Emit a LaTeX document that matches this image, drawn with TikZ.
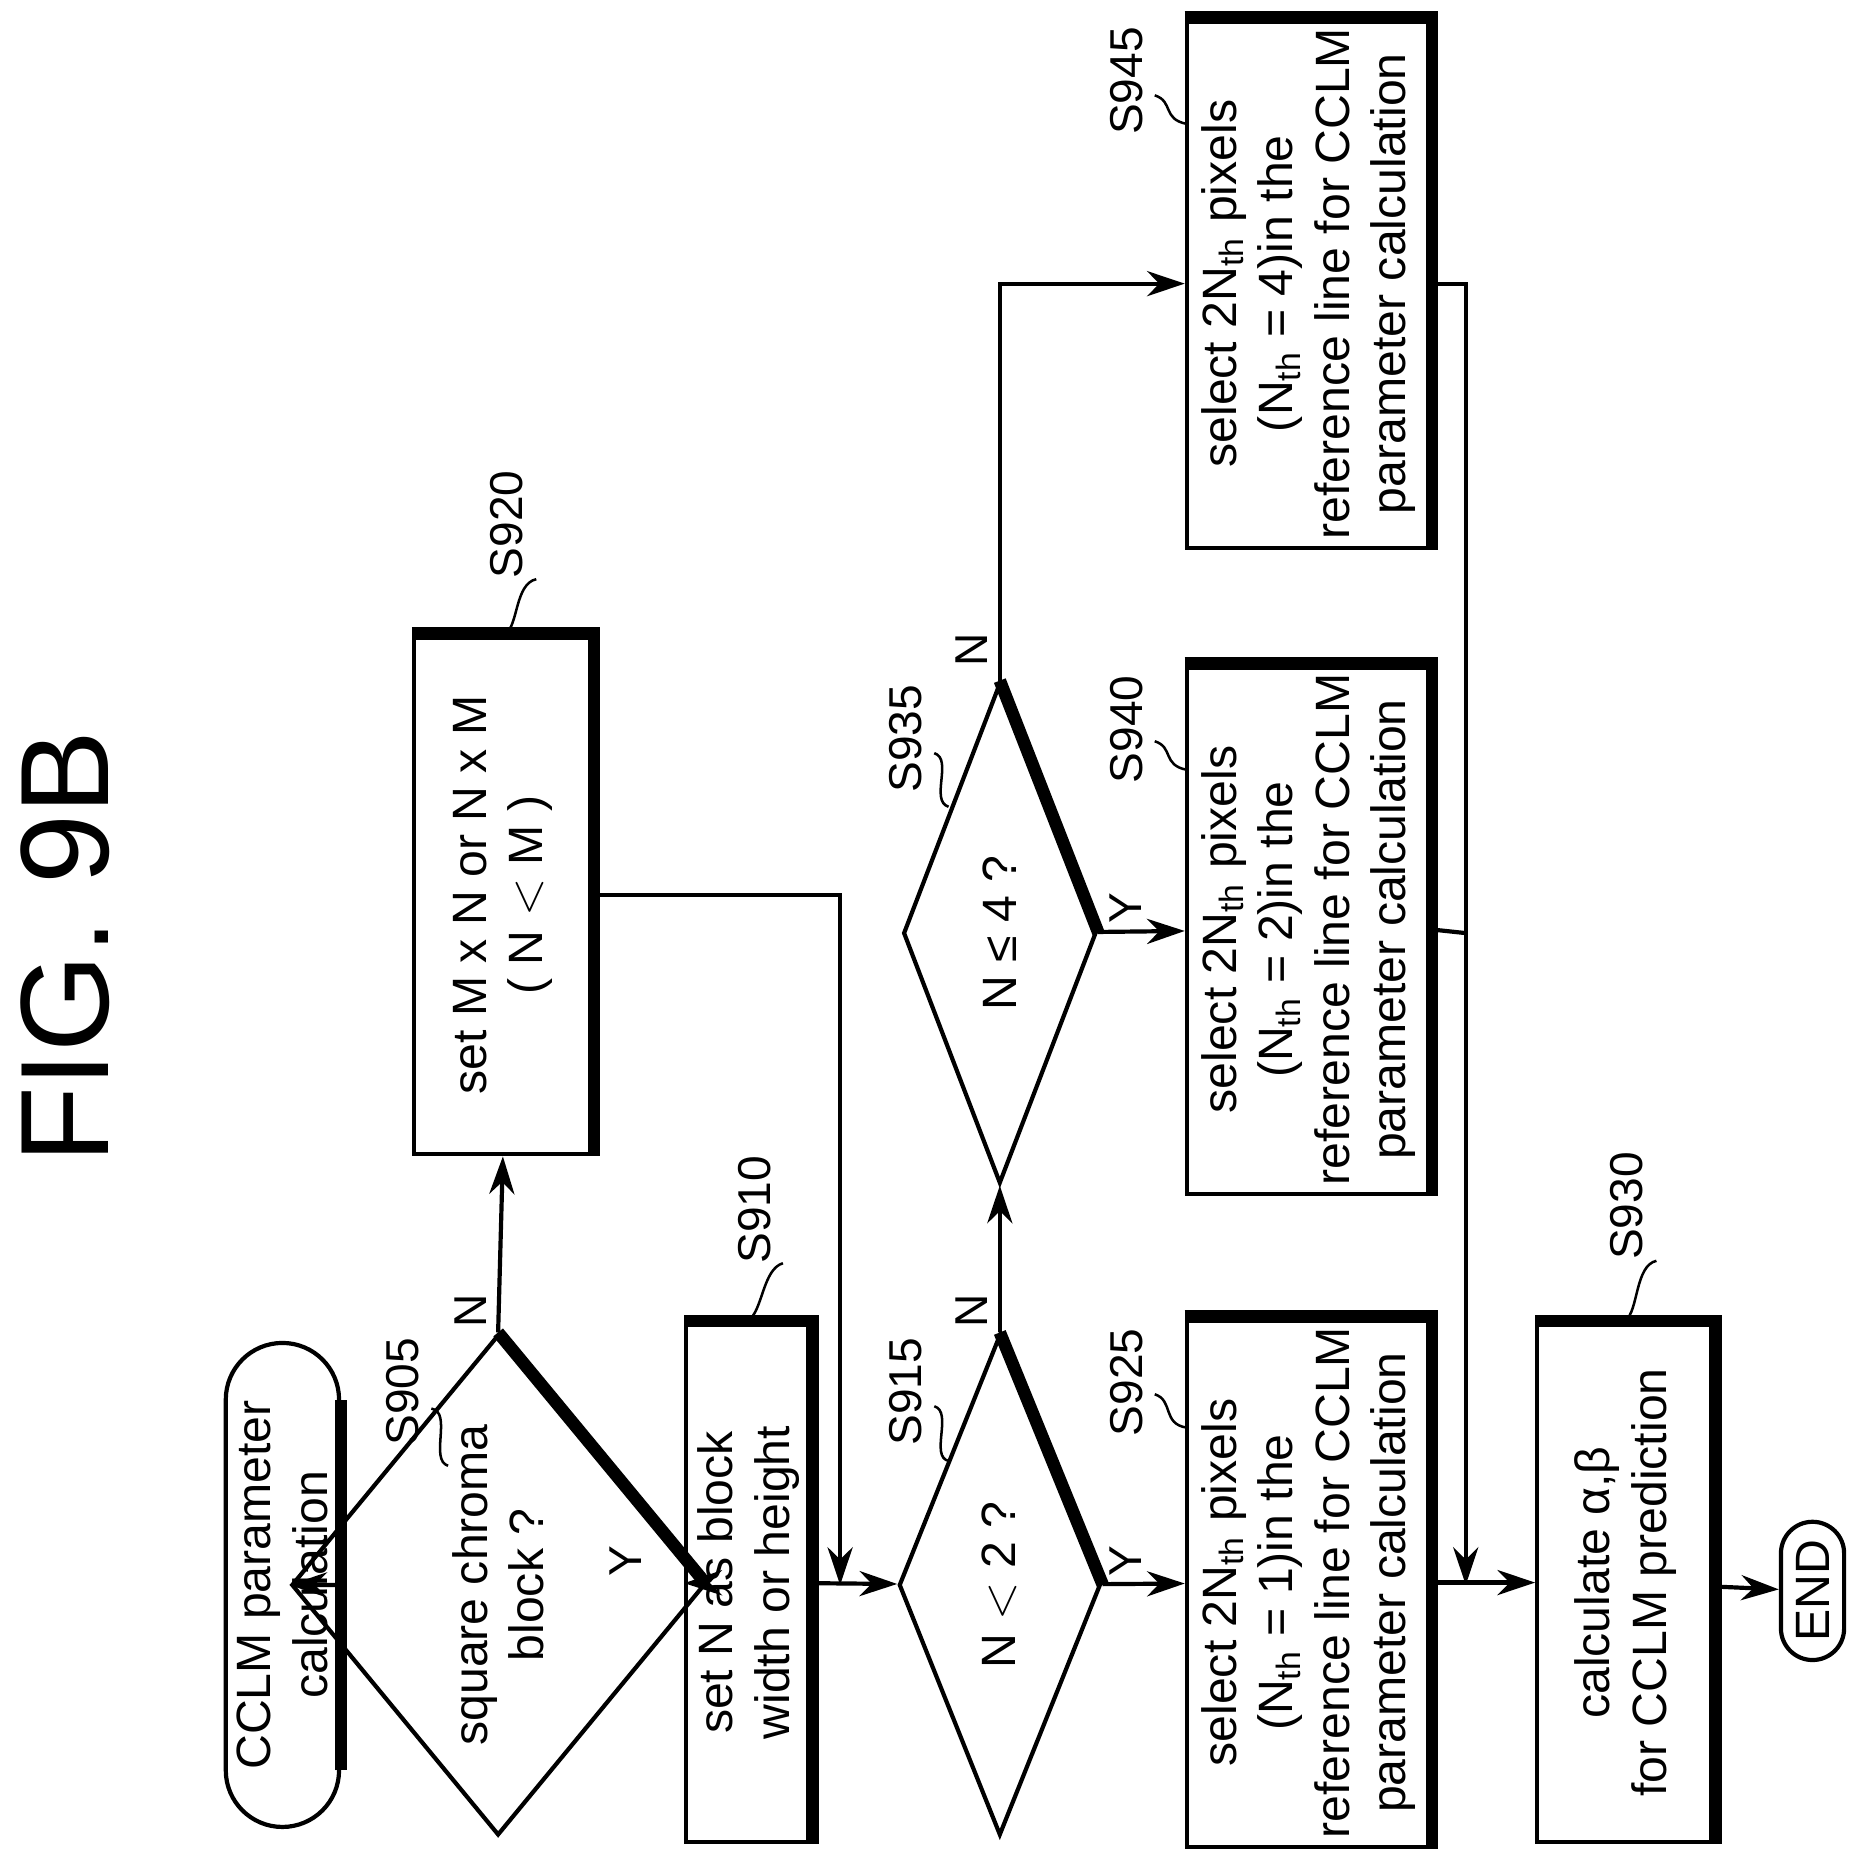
\documentclass[tikz,border=0pt]{standalone}
\usepackage{fontspec}
\setmainfont{Liberation Sans}
\usetikzlibrary{arrows.meta,shapes.geometric,shapes.misc}
% every box is turned by 90 degrees: page right = .south, page left = .north,
% page top = .east, page bottom = .west
\tikzset{
  flow/.style={draw,line width=1pt,rotate=90,align=center,inner sep=2pt,
    font=\fontsize{11.5}{13.5}\selectfont},
  box/.style={flow,rectangle},
  term/.style={flow,rounded rectangle},
  dec/.style={flow,diamond,minimum width=4.2cm,minimum height=1.62cm,inner sep=0pt},
  steplbl/.style={rotate=90,font=\fontsize{11}{13}\selectfont},
  yn/.style={rotate=90,font=\fontsize{11}{13}\selectfont},
  arr/.style={line width=1pt,-{Stealth[length=9pt,width=6pt]}},
  line/.style={line width=1pt},
  lead/.style={line width=0.6pt},
  shadow/.style={line width=3pt}
}
\begin{document}
\begin{tikzpicture}[x=0.01cm,y=-0.01cm]
\useasboundingbox (0,0) rectangle (1560,1556);

\node[rotate=90,font=\fontsize{30}{34}\selectfont] (title) at (55,795) {FIG. 9B};

% left column
\node[term,minimum width=4.2cm,minimum height=0.95cm] (start) at (237,1330)
  {CCLM parameter\\calculation};
\node[dec] (s905) at (418,1330) {square chroma\\block ?};
\node[box,minimum width=4.35cm,minimum height=1.04cm] (s910) at (628,1328)
  {set N as block\\width or height};
\node[dec] (s915) at (839,1330) {N $<$ 2 ?};
\node[box,minimum width=4.35cm,minimum height=2.04cm] (s925) at (1098,1328)
  {select 2N\textsubscript{th} pixels\\(N\textsubscript{th} = 1)in the\\reference line for CCLM\\parameter calculation};
\node[box,minimum width=4.35cm,minimum height=1.48cm] (s930) at (1364,1328)
  {calculate α,β\\for CCLM prediction};
\node[term,minimum width=1.3cm,minimum height=0.53cm] (end) at (1521,1335) {END};

% upper row
\node[box,minimum width=4.35cm,minimum height=1.49cm] (s920) at (422,751)
  {set M x N or N x M\\( N $<$ M )};
\node[dec] (s935) at (839,783) {N ≤ 4 ?};
\node[box,minimum width=4.35cm,minimum height=2.04cm] (s940) at (1098,780)
  {select 2N\textsubscript{th} pixels\\(N\textsubscript{th} = 2)in the\\reference line for CCLM\\parameter calculation};
\node[box,minimum width=4.35cm,minimum height=2.04cm] (s945) at (1098,238)
  {select 2N\textsubscript{th} pixels\\(N\textsubscript{th} = 4)in the\\reference line for CCLM\\parameter calculation};

% thick edges
\foreach \b in {s910,s925,s930,s920,s940,s945}
  \draw[shadow] (\b.north east) -- (\b.south east) -- (\b.south west);
\foreach \d in {s905,s915,s935}
  \draw[shadow] (\d.east) -- (\d.south);
\draw[shadow] (start.south west) -- (start.south east);

% connectors
\draw[arr] (start) -- (s905);
\draw[arr] (s905) -- (s910);
\draw[arr] (s910) -- (s915);
\draw[arr] (s915) -- (s925);
\draw[arr] (s925) -- (s930);
\draw[arr] (s930) -- (end);
\draw[arr] (s905.east) -- (s920.west);
\draw[arr] (s915.east) -- (s935.west);
\draw[arr] (s935) -- (s940);
\draw[arr] (s935.east) |- (s945.north);
\coordinate (j1) at (705,1330);
\draw[arr] (s920.south) -| (j1);
\coordinate (j2) at (1230,1330);
\draw[line] (s945.south) -| (1230,783);
\draw[line] (s940.south) -- (1230,783);
\draw[arr] (1230,783) -- (j2);

% Y / N
\node[yn] (y1) at (525,1310) {Y};
\node[yn] (n1) at (395,1100) {N};
\node[yn] (y2) at (945,1310) {Y};
\node[yn] (n2) at (815,1100) {N};
\node[yn] (y3) at (945,762) {Y};
\node[yn] (n3) at (815,545) {N};

% step labels
\node[steplbl] (l905) at (338,1168) {S905};
\node[steplbl] (l910) at (633,1015) {S910};
\node[steplbl] (l915) at (760,1168) {S915};
\node[steplbl] (l925) at (945,1160) {S925};
\node[steplbl] (l930) at (1365,1012) {S930};
\node[steplbl] (l935) at (760,620) {S935};
\node[steplbl] (l940) at (945,612) {S940};
\node[steplbl] (l945) at (945,68) {S945};
\node[steplbl] (l920) at (425,440) {S920};
\draw[lead] (362,1182) .. controls (380,1185) and (360,1225) .. (376,1230);
\draw[lead] (657,1060) .. controls (640,1065) and (640,1100) .. (628,1108);
\draw[lead] (784,1180) .. controls (800,1185) and (780,1222) .. (796,1226);
\draw[lead] (969,1170) .. controls (985,1175) and (975,1195) .. (996,1198);
\draw[lead] (1390,1058) .. controls (1372,1062) and (1375,1100) .. (1364,1108);
\draw[lead] (784,632) .. controls (800,637) and (780,672) .. (796,677);
\draw[lead] (969,622) .. controls (985,627) and (975,642) .. (996,646);
\draw[lead] (969,80) .. controls (985,85) and (975,100) .. (996,104);
\draw[lead] (450,486) .. controls (432,490) and (435,525) .. (424,532);
\end{tikzpicture}
\end{document}
